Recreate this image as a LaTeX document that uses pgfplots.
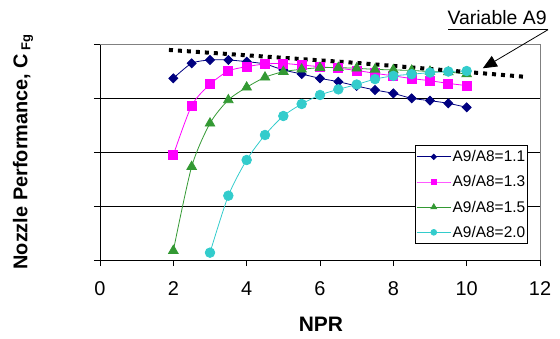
\documentclass[border=0pt]{standalone}
\usepackage{pgfplots}
\pgfplotsset{compat=1.18}
\usepackage{fontspec}
\setmainfont{Liberation Sans}
\usetikzlibrary{arrows.meta}
\definecolor{cblue}{RGB}{0,0,128}
\definecolor{cmag}{RGB}{255,0,255}
\definecolor{cgreen}{RGB}{51,153,51}
\definecolor{ccyan}{RGB}{51,204,204}
\begin{document}
\begin{tikzpicture}
\useasboundingbox (-100bp,-79bp) rectangle (460bp,260bp);
\begin{axis}[
  at={(0,0)}, anchor=south west,
  scale only axis, width=440bp, height=216bp,
  xmin=0, xmax=12, ymin=0, ymax=4,
  xtick={0,2,...,12}, ytick={0,1,2,3,4}, yticklabels={},
  axis lines=left, axis line style={-, black, line width=0.8pt},
  tick align=outside, major tick length=6bp,
  tick style={black, line width=0.8pt},
  ymajorgrids, grid style={black, line width=0.8pt},
  /pgf/number format/assume math mode=true,
  ticklabel style={font=\fontsize{20}{22}\selectfont},
  xticklabel style={yshift=-12bp},
  xlabel={\textbf{NPR}},
  xlabel style={font=\fontsize{21}{23}\selectfont, at={(axis description cs:0.502,-0.296)}, anchor=center},
  ylabel={\textbf{Nozzle Performance, C\,\raisebox{-0.3ex}{\fontsize{13}{13}\selectfont Fg}}},
  ylabel style={font=\fontsize{20}{22}\selectfont, at={(axis description cs:-0.175,0.5)}, anchor=center},
  clip=false,
  legend style={at={(0.973,0.532)}, anchor=north east, draw=black, line width=0.8pt,
    font=\fontsize{15.5}{17}\selectfont, row sep=8.5bp, inner xsep=1bp, inner ysep=3bp,
    nodes={inner xsep=1.5bp}},
  legend cell align=left,
  legend image code/.code={\draw[mark repeat=2,mark phase=2, every mark/.append style={scale=0.6}] plot coordinates {(0bp,0bp)(17bp,0bp)(34bp,0bp)};},
  every axis plot/.append style={line width=0.8pt, smooth, tension=0.45},
]
\draw[gray, line width=0.8pt] (axis cs:0,4) -- (axis cs:12,4) -- (axis cs:12,0);
\addplot[cblue, mark=diamond*, mark options={xscale=1.333, mark size=4.5bp, fill=cblue}] coordinates {
(2,3.364)(2.5,3.642)(3,3.704)(3.5,3.704)(4,3.673)(4.5,3.63)(5,3.519)(5.5,3.444)(6,3.364)(6.5,3.302)(7,3.222)(7.5,3.148)(8,3.086)(8.5,2.994)(9,2.951)(9.5,2.901)(10,2.827)};
\addlegendentry{A9/A8=1.1}
\addplot[cmag, mark=square*, mark options={mark size=4.5bp, fill=cmag}] coordinates {
(2,1.944)(2.5,2.858)(3,3.253)(3.5,3.5)(4,3.58)(4.5,3.63)(5,3.64)(5.5,3.61)(6,3.58)(6.5,3.55)(7,3.51)(7.5,3.457)(8,3.41)(8.5,3.36)(9,3.32)(9.5,3.27)(10,3.23)};
\addlegendentry{A9/A8=1.3}
\addplot[cgreen, mark=triangle*, mark options={mark size=5.5bp, fill=cgreen}] coordinates {
(2,0.173)(2.5,1.728)(3,2.531)(3.5,2.963)(4,3.198)(4.5,3.383)(5,3.488)(5.5,3.531)(6,3.562)(6.5,3.562)(7,3.55)(7.5,3.53)(8,3.52)(8.5,3.51)(9,3.49)(9.5,3.48)(10,3.444)};
\addlegendentry{A9/A8=1.5}
\addplot[ccyan, mark=*, mark options={mark size=4.8bp, fill=ccyan}] coordinates {
(3,0.136)(3.5,1.191)(4,1.852)(4.5,2.315)(5,2.667)(5.5,2.889)(6,3.056)(6.5,3.16)(7,3.25)(7.5,3.35)(8,3.41)(8.5,3.44)(9,3.47)(9.5,3.49)(10,3.5)};
\addlegendentry{A9/A8=2.0}
\addplot[black, line width=4bp, dash pattern=on 4bp off 5bp, no marks, sharp plot, forget plot] coordinates {(1.88,3.89)(7,3.65)(11.55,3.395)};
\draw[black, line width=0.8pt] (axis cs:9.5,4.265) -- (axis cs:12.22,4.265);
\draw[black, line width=0.8pt, -{Triangle[length=14bp,width=12bp]}] (axis cs:12.22,4.265) -- (axis cs:10.44,3.55);
\node[font=\fontsize{19.5}{21}\selectfont, anchor=base] at (axis cs:10.83,4.37) {Variable A9};
\end{axis}
\end{tikzpicture}
\end{document}
